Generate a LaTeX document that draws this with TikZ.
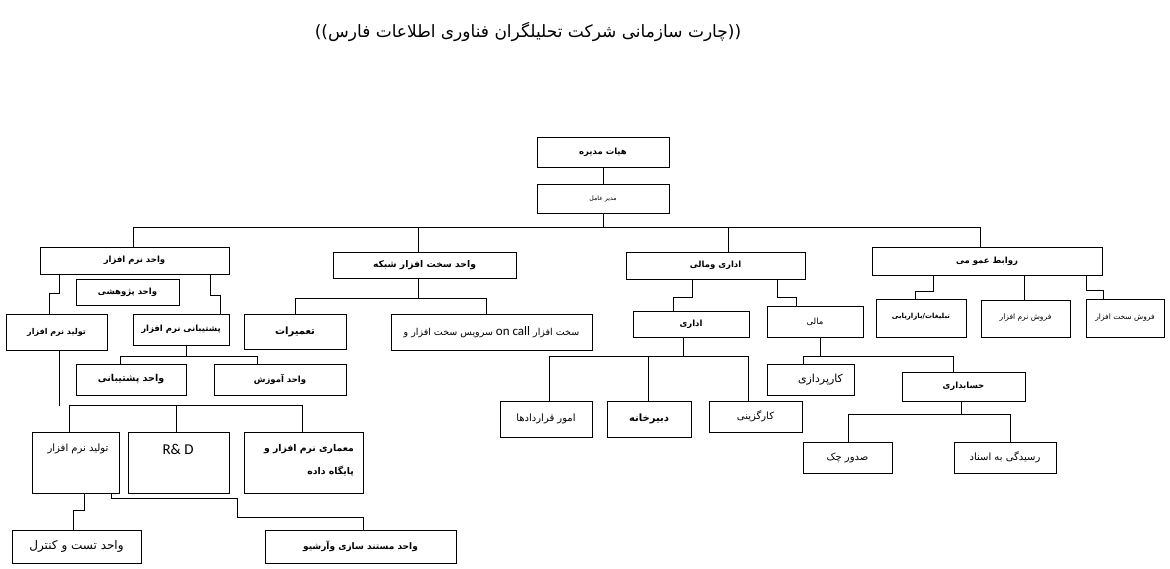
\documentclass[tikz,border=0pt]{standalone}
\usepackage{fontspec}
\TeXXeTstate=1
\newfontfamily\fa[Script=Arabic]{DejaVu Sans}
\newfontfamily\lat{Carlito}
\newcommand\rl[1]{\beginR #1\endR}
\newcommand\fsz[1]{\fontsize{#1}{#1}\selectfont}
\tikzset{
  box/.style={draw, line width=0.9pt, inner sep=0pt, align=center},
  bb/.style={font=\fa\bfseries\fsz{8.5}},
  nn/.style={font=\fa\fsz{10}},
  ln/.style={line width=0.8pt},
}
\newcommand\bx[7]{\node[box,#6,minimum width={#4pt-#2pt},minimum height={#5pt-#3pt}] (#1) at ({(#2+#4)/2},{(#3+#5)/2}) {#7};}
\begin{document}
\begin{tikzpicture}[x=1pt,y=-1pt]
\useasboundingbox (0,0) rectangle (1170,569);
\node[font=\fa\fsz{17}] (title) at (528,32) {\rl{((چارت سازمانی شرکت تحلیلگران فناوری اطلاعات فارس))}};

\bx{hm}{537}{137}{669}{167}{bb}{\rl{هیات مدیره}}
\bx{ma}{537}{184}{669}{213}{font=\fa\fsz{6.2}}{\rl{مدیر عامل}}
\bx{wn}{40}{247}{229}{274}{bb}{\rl{واحد نرم افزار}}
\bx{wp}{76}{279}{179}{305}{bb}{\rl{واحد پژوهشی}}
\bx{tn}{6}{314}{107}{350}{bb,font=\fa\bfseries\fsz{8}}{\rl{تولید نرم افزار}}
\bx{pn}{133}{314}{229}{345}{bb}{\rl{پشتیبانی نرم افزار}}
\bx{wps}{76}{364}{186}{395}{bb,font=\fa\bfseries\fsz{9.5}}{\rl{واحد پشتیبانی}}
\bx{wa}{214}{364}{346}{395}{bb}{\rl{واحد آموزش}}
\bx{sh}{333}{252}{516}{278}{bb,font=\fa\bfseries\fsz{9.2}}{\rl{واحد سخت افزار شبکه}}
\bx{tm}{244}{314}{346}{349}{bb,font=\fa\bfseries\fsz{10}}{\rl{تعمیرات}}
\bx{sv}{391}{314}{592}{350}{nn,font=\fa\fsz{9.5}}{\rl{سرویس سخت افزار و} {\lat\fsz{13}on call} \rl{سخت افزار}}
\bx{tn2}{32}{432}{119}{493}{nn}{}
\node[nn] (tn2t) at (78,449) {\rl{تولید نرم افزار}};
\bx{rd}{128}{432}{229}{493}{nn}{}
\node[font=\lat\fsz{15}] (rdt) at (178,449) {R\& D};
\bx{me}{244}{432}{363}{493}{bb}{}
\node[font=\fa\bfseries\fsz{9.3},anchor=east,inner sep=0pt] (met1) at (354,449) {\rl{معماری نرم افزار و}};
\node[font=\fa\bfseries\fsz{9.3},anchor=east,inner sep=0pt] (met2) at (354,471) {\rl{پایگاه داده}};
\bx{tk}{12}{530}{141}{563}{font=\fa\fsz{12}}{\rl{واحد تست و کنترل}}
\bx{ms}{265}{530}{456}{563}{bb,font=\fa\bfseries\fsz{9}}{\rl{واحد مستند سازی وآرشیو}}
\bx{am}{626}{252}{805}{279}{bb}{\rl{اداری ومالی}}
\bx{ad}{633}{311}{749}{337}{bb}{\rl{اداری}}
\bx{ml}{767}{306}{863}{337}{font=\fa\fsz{8.5}}{\rl{مالی}}
\bx{aq}{500}{401}{592}{437}{nn}{\rl{امور قراردادها}}
\bx{db}{607}{401}{691}{437}{bb,font=\fa\bfseries\fsz{10}}{\rl{دبیرخانه}}
\bx{kg}{709}{401}{802}{432}{nn}{\rl{کارگزینی}}
\bx{kp}{767}{364}{854}{395}{font=\fa\fsz{11}}{\hspace*{20pt}\rl{کارپردازی}}
\bx{hs}{902}{372}{1025}{401}{bb}{\rl{حسابداری}}
\bx{sc}{803}{442}{892}{473}{nn}{\rl{صدور چک}}
\bx{ra}{954}{442}{1056}{473}{nn}{\rl{رسیدگی به اسناد}}
\bx{ro}{872}{247}{1102}{275}{bb}{\rl{روابط عمو می}}
\bx{tb}{876}{299}{966}{337}{bb,font=\fa\bfseries\fsz{7}}{\raisebox{5pt}{\rl{تبلیغات/بازاریابی}}}
\bx{fn}{981}{300}{1070}{337}{font=\fa\fsz{7.5}}{\raisebox{3pt}{\rl{فروش نرم افزار}}}
\bx{fs}{1086}{299}{1164}{337}{font=\fa\fsz{7.5}}{\raisebox{3pt}{\rl{فروش سخت افزار}}}

\coordinate (bus) at (0,227);
\begin{scope}[ln]
\draw (hm.south) -- (ma.north);
\draw (ma.south) -- (ma.south |- bus);
\draw (wn.north -| 133,0) -- (bus -| 133,0) -| (ro.north -| 980,0);
\draw (sh.north -| 418,0) -- (bus -| 418,0);
\draw (am.north -| 728,0) -- (bus -| 728,0);
% software unit
\draw (wn.south -| 59,0) -- ++(0,19) -| (tn.north -| 49,0);
\draw (wn.south -| 210,0) -- ++(0,21) -| (pn.north -| 220,0);
\draw (pn.south -| 186,0) -- ++(0,11.7);
\draw (wps.north -| 120,0) -- ++(0,-7.3) -| (wa.north -| 257,0);
\draw (tn.south -| 59,0) -- ++(0,55.7);
\draw (tn2.north -| 69,0) -- ++(0,-26.3) -| (me.north -| 302,0);
\draw (rd.north -| 176,0) -- ++(0,-26.3);
\draw (tn2.south -| 84,0) -- ++(0,17) -| (tk.north -| 73,0);
\draw (tn2.south -| 111,0) -- ++(0,5.3) -| (237,517.3) -| (ms.north -| 363,0);
% hardware
\draw (sh.south -| 418,0) -- ++(0,20.7);
\draw (tm.north -| 295,0) -- ++(0,-15.3) -| (sv.north -| 486,0);
% admin & finance
\draw (am.south -| 692,0) -- ++(0,18) -| (ad.north -| 673,0);
\draw (am.south -| 777,0) -- ++(0,18) -| (ml.north -| 796,0);
\draw (ad.south -| 683,0) -- ++(0,19.7);
\draw (aq.north -| 549,0) -- ++(0,-44.3) -| (kg.north -| 748,0);
\draw (db.north -| 648,0) -- ++(0,-44.3);
\draw (ml.south -| 820,0) -- ++(0,19.7);
\draw (kp.north -| 803,0) -- ++(0,-7.3) -| (hs.north -| 953,0);
\draw (hs.south -| 961,0) -- ++(0,14);
\draw (sc.north -| 848,0) -- ++(0,-27) -| (ra.north -| 1010,0);
% public relations
\draw (ro.south -| 933,0) -- ++(0,15.7) -| (tb.north -| 915,0);
\draw (ro.south -| 1024,0) -- (fn.north -| 1024,0);
\draw (ro.south -| 1086,0) -- ++(0,15) -| (fs.north -| 1103,0);
\end{scope}
\end{tikzpicture}
\end{document}
